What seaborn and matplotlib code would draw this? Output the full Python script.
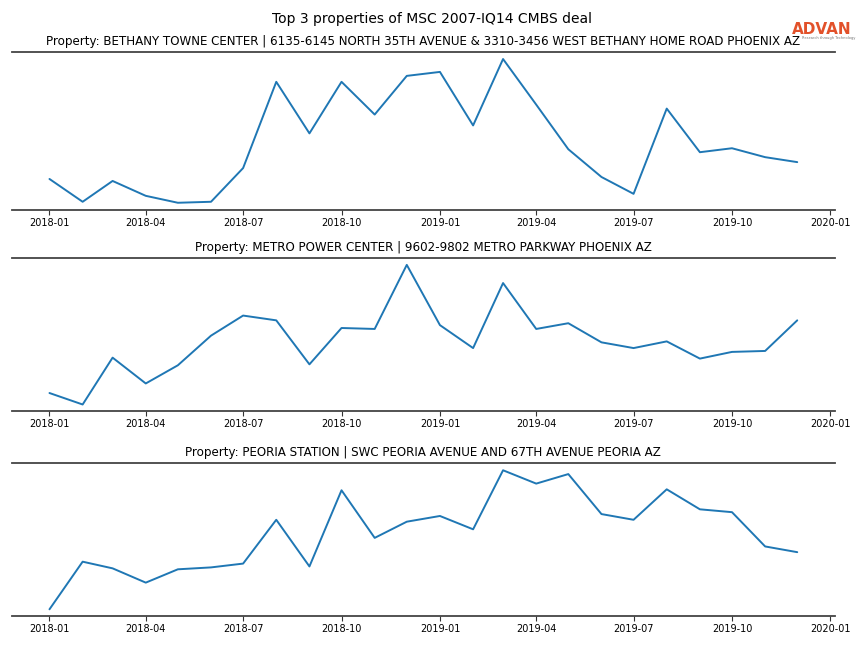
import pandas as pd
import numpy as np
import matplotlib
matplotlib.use('Agg')
import matplotlib.pyplot as plt
import matplotlib.dates as mdates
import seaborn as sns

# =============================================================================
# Data (monthly relative foot traffic)
# =============================================================================

months = pd.date_range('2018-01-01', '2019-12-01', freq='MS')

bethany_values = [40, 17, 38, 23, 16, 17, 51, 138, 86, 138, 105, 144,
                  148, 94, 161, 115, 70, 42, 25, 111, 67, 71, 62, 57]

metro_values = [23, 11, 60, 33, 52, 83, 104, 99, 53, 91, 90, 157,
                94, 70, 138, 90, 96, 76, 70, 77, 59, 66, 67, 99]

peoria_values = [7, 57, 50, 35, 49, 51, 55, 101, 52, 132, 82, 99,
                 105, 91, 153, 139, 149, 107, 101, 133, 112, 109, 73, 67]

titles = ['Property: BETHANY TOWNE CENTER | 6135-6145 NORTH 35TH AVENUE & 3310-3456 WEST BETHANY HOME ROAD PHOENIX AZ',
          'Property: METRO POWER CENTER | 9602-9802 METRO PARKWAY PHOENIX AZ',
          'Property: PEORIA STATION | SWC PEORIA AVENUE AND 67TH AVENUE PEORIA AZ']

series = [bethany_values, metro_values, peoria_values]

# =============================================================================
# Plot
# =============================================================================

sns.set_theme(style='white')
plt.rcParams['font.family'] = ['DejaVu Sans']
plt.rcParams['text.color'] = 'black'
plt.rcParams['xtick.color'] = 'black'
plt.rcParams['axes.titlecolor'] = 'black'

fig = plt.figure(figsize=(8.64, 6.48), dpi=100)

# axes positions [left, bottom, width, height]
positions = [[0.014, 0.676, 0.952, 0.244],
             [0.014, 0.365, 0.952, 0.237],
             [0.014, 0.049, 0.952, 0.236]]

for pos, vals, title in zip(positions, series, titles):
    ax = fig.add_axes(pos)
    df = pd.DataFrame({'month': months, 'value': vals})
    sns.lineplot(data=df, x='month', y='value', ax=ax, color='#1f77b4', linewidth=1.4)
    ax.set_title(title, fontsize=8.6, pad=5)
    ax.set_xlabel('')
    ax.set_ylabel('')
    ax.set_yticks([])
    ax.xaxis.set_major_locator(mdates.MonthLocator(bymonth=[1, 4, 7, 10]))
    ax.xaxis.set_major_formatter(mdates.DateFormatter('%Y-%m'))
    ax.tick_params(axis='x', labelsize=7, length=3.5, width=0.8,
                   direction='out', bottom=True, color='#333333', pad=2)
    for side in ['left', 'right']:
        ax.spines[side].set_visible(False)
    for side in ['top', 'bottom']:
        ax.spines[side].set_visible(True)
        ax.spines[side].set_color('#444444')
        ax.spines[side].set_linewidth(1.3)
    ax.margins(x=0.05, y=0.05)

fig.suptitle('Top 3 properties of MSC 2007-IQ14 CMBS deal', fontsize=10, y=0.982)

# logo
fig.text(0.916, 0.955, 'ADVAN', color='#e2512a', fontsize=11, fontweight='bold',
         ha='left', va='center')
fig.text(0.928, 0.941, 'Research through Technology', color='#777777', fontsize=2.6,
         ha='left', va='center')

plt.savefig('out.png', dpi=100)
